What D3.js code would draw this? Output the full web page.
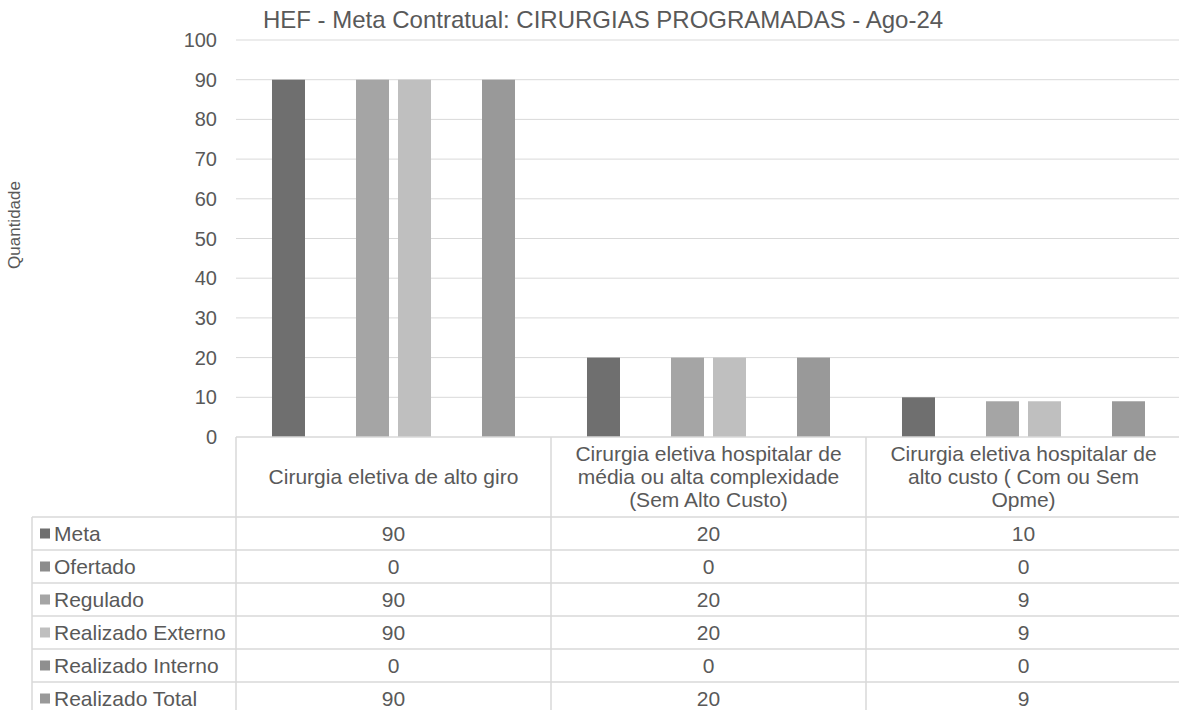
<!DOCTYPE html>
<html>
<head>
<meta charset="utf-8">
<script src="https://cdn.jsdelivr.net/npm/d3@7"></script>
<style>
  body { margin: 0; background: #fff; }
  text { font-family: "Liberation Sans", Arial, sans-serif; fill: #595959; }
</style>
</head>
<body>
<script>
var width = 1179,
    height = 710;

// data
var categories = [
  "Cirurgia eletiva de alto giro",
  "Cirurgia eletiva hospitalar de média ou alta complexidade (Sem Alto Custo)",
  "Cirurgia eletiva hospitalar de alto custo ( Com ou Sem Opme)"
];
var seriesNames = ["Meta", "Ofertado", "Regulado", "Realizado Externo", "Realizado Interno", "Realizado Total"];
var meta = [90, 20, 10];
var ofertado = [0, 0, 0];
var regulado = [90, 20, 9];
var realizadoExterno = [90, 20, 9];
var realizadoInterno = [0, 0, 0];
var realizadoTotal = [90, 20, 9];
var yTicks = [0, 10, 20, 30, 40, 50, 60, 70, 80, 90, 100];
var colors = ["#6f6f6f", "#8c8c8c", "#a5a5a5", "#bfbfbf", "#8f8f8f", "#999999"];

var seriesValues = [meta, ofertado, regulado, realizadoExterno, realizadoInterno, realizadoTotal];

var plotLeft = 236,
    plotTop = 40,
    plotBottom = 437,
    colW = 315,
    headerH = 80,
    rowH = 33,
    tableLeft = 32,
    fs = 21;

var svg = d3.select("body").append("svg")
    .attr("width", width)
    .attr("height", height);

var y = d3.scaleLinear()
    .domain([0, 100])
    .range([plotBottom, plotTop]);

var x0 = d3.scaleBand()
    .domain(d3.range(categories.length))
    .range([plotLeft, plotLeft + colW * categories.length]);

var x1 = d3.scaleBand()
    .domain(d3.range(seriesNames.length))
    .range([0, x0.bandwidth()])
    .paddingInner(0.2143)
    .paddingOuter(0.857);

// gridlines
svg.append("g")
  .selectAll("line")
  .data(yTicks.slice(1))
  .enter().append("line")
    .attr("x1", plotLeft)
    .attr("x2", width)
    .attr("y1", function(d) { return y(d); })
    .attr("y2", function(d) { return y(d); })
    .attr("stroke", "#d9d9d9")
    .attr("stroke-width", 1);

// y tick labels
svg.append("g")
  .selectAll("text")
  .data(yTicks)
  .enter().append("text")
    .attr("x", 217)
    .attr("y", function(d) { return y(d) + 7; })
    .attr("text-anchor", "end")
    .style("font-size", "20px")
    .text(function(d) { return d; });

// bars
var groups = svg.append("g")
  .selectAll("g")
  .data(categories)
  .enter().append("g")
    .attr("transform", function(d, i) { return "translate(" + x0(i) + ",0)"; });

groups.selectAll("rect")
  .data(function(d, i) {
    return seriesValues.map(function(s, j) { return { s: j, v: s[i] }; });
  })
  .enter().append("rect")
    .attr("x", function(d) { return x1(d.s); })
    .attr("width", x1.bandwidth())
    .attr("y", function(d) { return y(d.v); })
    .attr("height", function(d) { return y(0) - y(d.v); })
    .attr("fill", function(d) { return colors[d.s]; });

// title
svg.append("text")
    .attr("x", 603)
    .attr("y", 28)
    .attr("text-anchor", "middle")
    .style("font-size", "24px")
    .text("HEF - Meta Contratual: CIRURGIAS PROGRAMADAS - Ago-24");

// y axis title
svg.append("text")
    .attr("transform", "translate(20,225)rotate(-90)")
    .attr("text-anchor", "middle")
    .style("font-size", "17px")
    .text("Quantidade");

// data table
var table = svg.append("g");
var lineColor = "#d9d9d9";
var tableBottom = plotBottom + headerH + rowH * seriesNames.length;

table.append("line")
    .attr("x1", plotLeft).attr("x2", width)
    .attr("y1", plotBottom).attr("y2", plotBottom)
    .attr("stroke", lineColor).attr("stroke-width", 1.5);

table.selectAll(".hrow")
  .data(seriesNames)
  .enter().append("line")
    .attr("class", "hrow")
    .attr("x1", tableLeft).attr("x2", width)
    .attr("y1", function(d, i) { return plotBottom + headerH + rowH * i; })
    .attr("y2", function(d, i) { return plotBottom + headerH + rowH * i; })
    .attr("stroke", lineColor).attr("stroke-width", 1.5);

table.append("line")
    .attr("x1", tableLeft).attr("x2", tableLeft)
    .attr("y1", plotBottom + headerH).attr("y2", tableBottom)
    .attr("stroke", lineColor).attr("stroke-width", 1.5);

table.selectAll(".vcol")
  .data(categories)
  .enter().append("line")
    .attr("class", "vcol")
    .attr("x1", function(d, i) { return x0(i); })
    .attr("x2", function(d, i) { return x0(i); })
    .attr("y1", plotBottom).attr("y2", tableBottom)
    .attr("stroke", lineColor).attr("stroke-width", 1.5);

// category header text, wrapped to the column
var headers = table.selectAll(".hdr")
  .data(categories)
  .enter().append("text")
    .attr("class", "hdr")
    .attr("text-anchor", "middle")
    .style("font-size", fs + "px");

headers.each(function(d, i) {
  var t = d3.select(this);
  var words = d.split(" ");
  var lines = [], line = [];
  var probe = t.append("tspan");
  words.forEach(function(w) {
    line.push(w);
    probe.text(line.join(" "));
    if (probe.node().getComputedTextLength() > 285 && line.length > 1) {
      line.pop();
      lines.push(line.join(" "));
      line = [w];
    }
  });
  lines.push(line.join(" "));
  probe.remove();
  var lh = 23;
  var cx = x0(i) + colW / 2;
  var cy = plotBottom + headerH / 2;
  var startY = cy - (lines.length - 1) * lh / 2 + 7;
  lines.forEach(function(l, k) {
    t.append("tspan")
      .attr("x", cx)
      .attr("y", startY + k * lh)
      .text(l);
  });
});

// rows
var rows = table.selectAll(".row")
  .data(seriesNames)
  .enter().append("g")
    .attr("class", "row")
    .attr("transform", function(d, i) { return "translate(0," + (plotBottom + headerH + rowH * i) + ")"; });

rows.append("rect")
    .attr("x", 40)
    .attr("y", rowH / 2 - 5)
    .attr("width", 10)
    .attr("height", 10)
    .attr("fill", function(d, i) { return colors[i]; });

rows.append("text")
    .attr("x", 54)
    .attr("y", rowH / 2 + 7)
    .style("font-size", fs + "px")
    .text(function(d) { return d; });

rows.each(function(d, i) {
  d3.select(this).selectAll(".val")
    .data(seriesValues[i])
    .enter().append("text")
      .attr("class", "val")
      .attr("x", function(v, c) { return x0(c) + colW / 2; })
      .attr("y", rowH / 2 + 7)
      .attr("text-anchor", "middle")
      .style("font-size", fs + "px")
      .text(function(v) { return v; });
});
</script>
</body>
</html>
